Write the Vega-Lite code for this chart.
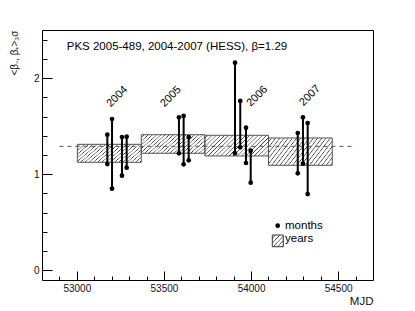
{
  "$schema": "https://vega.github.io/schema/vega-lite/v6.json",
  "width": 331,
  "height": 250,
  "autosize": "none",
  "padding": {"left": 42, "top": 30, "right": 42, "bottom": 31},
  "background": "white",
  "config": {
    "font": "Liberation Sans",
    "view": {"stroke": "#000", "strokeWidth": 1},
    "axis": {"domain": false, "grid": false, "tickColor": "#000", "tickWidth": 1, "labelColor": "#111", "titleColor": "#111", "labelFont": "Liberation Sans", "titleFont": "Liberation Sans", "titleFontWeight": "normal"}
  },
  "datasets": {
    "years": [
      {"x": 53003, "x2": 53370, "lo": 1.124, "hi": 1.311},
      {"x": 53370, "x2": 53735, "lo": 1.218, "hi": 1.411},
      {"x": 53735, "x2": 54100, "lo": 1.190, "hi": 1.405},
      {"x": 54100, "x2": 54466, "lo": 1.093, "hi": 1.377}
    ],
    "months": [
      {"mjd": 53175, "lo": 1.106, "hi": 1.411},
      {"mjd": 53202, "lo": 0.850, "hi": 1.574},
      {"mjd": 53259, "lo": 0.985, "hi": 1.387},
      {"mjd": 53286, "lo": 1.068, "hi": 1.391},
      {"mjd": 53586, "lo": 1.217, "hi": 1.592},
      {"mjd": 53613, "lo": 1.103, "hi": 1.606},
      {"mjd": 53642, "lo": 1.145, "hi": 1.387},
      {"mjd": 53908, "lo": 1.217, "hi": 2.160},
      {"mjd": 53938, "lo": 1.280, "hi": 1.762},
      {"mjd": 53971, "lo": 1.117, "hi": 1.484},
      {"mjd": 53998, "lo": 0.912, "hi": 1.245},
      {"mjd": 54268, "lo": 1.009, "hi": 1.429},
      {"mjd": 54298, "lo": 1.110, "hi": 1.592},
      {"mjd": 54325, "lo": 0.794, "hi": 1.533}
    ],
    "mean": [{"x": 52900, "x2": 54600, "y": 1.29}],
    "yearLabels": [
      {"x": 53232, "y": 1.806, "t": "2004"},
      {"x": 53540, "y": 1.806, "t": "2005"},
      {"x": 54036, "y": 1.810, "t": "2006"},
      {"x": 54338, "y": 1.817, "t": "2007"}
    ],
    "caption": [{"x": 52942, "y": 2.326, "t": "PKS 2005-489, 2004-2007 (HESS), β=1.29"}],
    "legendDot": [{"x": 54153, "y": 0.465}],
    "legendBox": [{"x": 54122, "x2": 54185, "lo": 0.246, "hi": 0.368}],
    "legendText": [
      {"x": 54195, "y": 0.465, "t": "months"},
      {"x": 54195, "y": 0.323, "t": "years"}
    ]
  },
  "resolve": {"axis": {"x": "independent", "y": "independent"}},
  "layer": [
    {
      "data": {"name": "years"},
      "mark": {
        "type": "rect",
        "stroke": "#555",
        "strokeWidth": 1,
        "fill": {
          "gradient": "linear", "x1": 0, "y1": 0, "x2": 1.25, "y2": 0.41,
          "stops": [
            {"offset": 0, "color": "rgba(255,255,255,0)"},
            {"offset": 0.02143, "color": "rgba(255,255,255,0)"}, {"offset": 0.03429, "color": "#333"}, {"offset": 0.04762, "color": "rgba(255,255,255,0)"},
            {"offset": 0.06905, "color": "rgba(255,255,255,0)"}, {"offset": 0.08190, "color": "#333"}, {"offset": 0.09524, "color": "rgba(255,255,255,0)"},
            {"offset": 0.11667, "color": "rgba(255,255,255,0)"}, {"offset": 0.12952, "color": "#333"}, {"offset": 0.14286, "color": "rgba(255,255,255,0)"},
            {"offset": 0.16429, "color": "rgba(255,255,255,0)"}, {"offset": 0.17714, "color": "#333"}, {"offset": 0.19048, "color": "rgba(255,255,255,0)"},
            {"offset": 0.21190, "color": "rgba(255,255,255,0)"}, {"offset": 0.22476, "color": "#333"}, {"offset": 0.23810, "color": "rgba(255,255,255,0)"},
            {"offset": 0.25952, "color": "rgba(255,255,255,0)"}, {"offset": 0.27238, "color": "#333"}, {"offset": 0.28571, "color": "rgba(255,255,255,0)"},
            {"offset": 0.30714, "color": "rgba(255,255,255,0)"}, {"offset": 0.32000, "color": "#333"}, {"offset": 0.33333, "color": "rgba(255,255,255,0)"},
            {"offset": 0.35476, "color": "rgba(255,255,255,0)"}, {"offset": 0.36762, "color": "#333"}, {"offset": 0.38095, "color": "rgba(255,255,255,0)"},
            {"offset": 0.40238, "color": "rgba(255,255,255,0)"}, {"offset": 0.41524, "color": "#333"}, {"offset": 0.42857, "color": "rgba(255,255,255,0)"},
            {"offset": 0.45000, "color": "rgba(255,255,255,0)"}, {"offset": 0.46286, "color": "#333"}, {"offset": 0.47619, "color": "rgba(255,255,255,0)"},
            {"offset": 0.49762, "color": "rgba(255,255,255,0)"}, {"offset": 0.51048, "color": "#333"}, {"offset": 0.52381, "color": "rgba(255,255,255,0)"},
            {"offset": 0.54524, "color": "rgba(255,255,255,0)"}, {"offset": 0.55810, "color": "#333"}, {"offset": 0.57143, "color": "rgba(255,255,255,0)"},
            {"offset": 0.59286, "color": "rgba(255,255,255,0)"}, {"offset": 0.60571, "color": "#333"}, {"offset": 0.61905, "color": "rgba(255,255,255,0)"},
            {"offset": 0.64048, "color": "rgba(255,255,255,0)"}, {"offset": 0.65333, "color": "#333"}, {"offset": 0.66667, "color": "rgba(255,255,255,0)"},
            {"offset": 0.68810, "color": "rgba(255,255,255,0)"}, {"offset": 0.70095, "color": "#333"}, {"offset": 0.71429, "color": "rgba(255,255,255,0)"},
            {"offset": 0.73571, "color": "rgba(255,255,255,0)"}, {"offset": 0.74857, "color": "#333"}, {"offset": 0.76190, "color": "rgba(255,255,255,0)"},
            {"offset": 0.78333, "color": "rgba(255,255,255,0)"}, {"offset": 0.79619, "color": "#333"}, {"offset": 0.80952, "color": "rgba(255,255,255,0)"},
            {"offset": 0.83095, "color": "rgba(255,255,255,0)"}, {"offset": 0.84381, "color": "#333"}, {"offset": 0.85714, "color": "rgba(255,255,255,0)"},
            {"offset": 0.87857, "color": "rgba(255,255,255,0)"}, {"offset": 0.89143, "color": "#333"}, {"offset": 0.90476, "color": "rgba(255,255,255,0)"},
            {"offset": 0.92619, "color": "rgba(255,255,255,0)"}, {"offset": 0.93905, "color": "#333"}, {"offset": 0.95238, "color": "rgba(255,255,255,0)"},
            {"offset": 0.97381, "color": "rgba(255,255,255,0)"}, {"offset": 0.98667, "color": "#333"}, {"offset": 1.0, "color": "rgba(255,255,255,0)"}
          ]
        }
      },
      "encoding": {
        "x": {
          "field": "x", "type": "quantitative",
          "scale": {"domain": [52800, 54700], "nice": false, "zero": false},
          "axis": {
            "orient": "bottom", "values": [53000, 53500, 54000, 54500], "format": "d",
            "ticks": false, "labelPadding": 3, "labelFontSize": 10,
            "title": "MJD", "titleFontSize": 11.5, "titleX": 331, "titleY": 21,
            "titleAlign": "right", "titleBaseline": "middle", "titleAngle": 0
          }
        },
        "x2": {"field": "x2"},
        "y": {
          "field": "lo", "type": "quantitative",
          "scale": {"domain": [-0.1, 2.5], "nice": false, "zero": false},
          "axis": {
            "orient": "left", "values": [0, 1, 2], "format": "d",
            "ticks": false, "labelPadding": 3, "labelFontSize": 10,
            "title": "<β₋, β₊>₃σ", "titleFontSize": 10, "titleX": -28, "titleY": 0,
            "titleAlign": "right", "titleBaseline": "middle", "titleAngle": -90
          }
        },
        "y2": {"field": "hi"}
      }
    },
    {
      "data": {"name": "mean"},
      "mark": {"type": "rule", "stroke": "#555", "strokeWidth": 1, "strokeDash": [4, 4]},
      "encoding": {
        "x": {
          "field": "x", "type": "quantitative",
          "scale": {"domain": [52800, 54700], "nice": false, "zero": false},
          "axis": {"orient": "bottom", "values": [53000, 53500, 54000, 54500], "labels": false, "ticks": true, "tickSize": 9, "offset": -9, "title": null}
        },
        "x2": {"field": "x2"},
        "y": {
          "field": "y", "type": "quantitative",
          "scale": {"domain": [-0.1, 2.5], "nice": false, "zero": false},
          "axis": {"orient": "left", "values": [0, 1, 2], "labels": false, "ticks": true, "tickSize": 10, "offset": -10, "title": null}
        }
      }
    },
    {
      "data": {"name": "months"},
      "mark": {"type": "rule", "stroke": "#000", "strokeWidth": 2},
      "encoding": {
        "x": {
          "field": "mjd", "type": "quantitative",
          "scale": {"domain": [52800, 54700], "nice": false, "zero": false},
          "axis": {"orient": "bottom", "values": [52900, 53100, 53200, 53300, 53400, 53600, 53700, 53800, 53900, 54100, 54200, 54300, 54400, 54600], "labels": false, "ticks": true, "tickSize": 4, "offset": -4, "title": null}
        },
        "y": {
          "field": "lo", "type": "quantitative",
          "scale": {"domain": [-0.1, 2.5], "nice": false, "zero": false},
          "axis": {"orient": "left", "values": [0.2, 0.4, 0.6, 0.8, 1.2, 1.4, 1.6, 1.8, 2.2, 2.4], "labels": false, "ticks": true, "tickSize": 5, "offset": -5, "title": null}
        },
        "y2": {"field": "hi"}
      }
    },
    {
      "data": {"name": "months"},
      "mark": {"type": "point", "filled": true, "color": "#000", "opacity": 1, "size": 22},
      "encoding": {
        "x": {"field": "mjd", "type": "quantitative", "scale": {"domain": [52800, 54700], "nice": false, "zero": false}, "axis": null},
        "y": {"field": "lo", "type": "quantitative", "scale": {"domain": [-0.1, 2.5], "nice": false, "zero": false}, "axis": null}
      }
    },
    {
      "data": {"name": "months"},
      "mark": {"type": "point", "filled": true, "color": "#000", "opacity": 1, "size": 22},
      "encoding": {
        "x": {"field": "mjd", "type": "quantitative", "scale": {"domain": [52800, 54700], "nice": false, "zero": false}, "axis": null},
        "y": {"field": "hi", "type": "quantitative", "scale": {"domain": [-0.1, 2.5], "nice": false, "zero": false}, "axis": null}
      }
    },
    {
      "data": {"name": "yearLabels"},
      "mark": {"type": "text", "angle": 315, "align": "center", "baseline": "middle", "fontSize": 11, "color": "#000"},
      "encoding": {
        "x": {"field": "x", "type": "quantitative", "scale": {"domain": [52800, 54700], "nice": false, "zero": false}, "axis": null},
        "y": {"field": "y", "type": "quantitative", "scale": {"domain": [-0.1, 2.5], "nice": false, "zero": false}, "axis": null},
        "text": {"field": "t"}
      }
    },
    {
      "data": {"name": "caption"},
      "mark": {"type": "text", "align": "left", "baseline": "middle", "fontSize": 11.5, "color": "#000"},
      "encoding": {
        "x": {"field": "x", "type": "quantitative", "scale": {"domain": [52800, 54700], "nice": false, "zero": false}, "axis": null},
        "y": {"field": "y", "type": "quantitative", "scale": {"domain": [-0.1, 2.5], "nice": false, "zero": false}, "axis": null},
        "text": {"field": "t"}
      }
    },
    {
      "data": {"name": "legendDot"},
      "mark": {"type": "point", "filled": true, "color": "#000", "opacity": 1, "size": 22},
      "encoding": {
        "x": {"field": "x", "type": "quantitative", "scale": {"domain": [52800, 54700], "nice": false, "zero": false}, "axis": null},
        "y": {"field": "y", "type": "quantitative", "scale": {"domain": [-0.1, 2.5], "nice": false, "zero": false}, "axis": null}
      }
    },
    {
      "data": {"name": "legendBox"},
      "mark": {
        "type": "rect", "stroke": "#333", "strokeWidth": 1,
        "fill": {
          "gradient": "linear", "x1": 0, "y1": 0, "x2": 1, "y2": 1,
          "stops": [
            {"offset": 0, "color": "rgba(255,255,255,0)"},
            {"offset": 0.09, "color": "rgba(255,255,255,0)"}, {"offset": 0.144, "color": "#333"}, {"offset": 0.2, "color": "rgba(255,255,255,0)"},
            {"offset": 0.29, "color": "rgba(255,255,255,0)"}, {"offset": 0.344, "color": "#333"}, {"offset": 0.4, "color": "rgba(255,255,255,0)"},
            {"offset": 0.49, "color": "rgba(255,255,255,0)"}, {"offset": 0.544, "color": "#333"}, {"offset": 0.6, "color": "rgba(255,255,255,0)"},
            {"offset": 0.69, "color": "rgba(255,255,255,0)"}, {"offset": 0.744, "color": "#333"}, {"offset": 0.8, "color": "rgba(255,255,255,0)"},
            {"offset": 0.89, "color": "rgba(255,255,255,0)"}, {"offset": 0.944, "color": "#333"}, {"offset": 1.0, "color": "rgba(255,255,255,0)"}
          ]
        }
      },
      "encoding": {
        "x": {"field": "x", "type": "quantitative", "scale": {"domain": [52800, 54700], "nice": false, "zero": false}, "axis": null},
        "x2": {"field": "x2"},
        "y": {"field": "lo", "type": "quantitative", "scale": {"domain": [-0.1, 2.5], "nice": false, "zero": false}, "axis": null},
        "y2": {"field": "hi"}
      }
    },
    {
      "data": {"name": "legendText"},
      "mark": {"type": "text", "align": "left", "baseline": "middle", "fontSize": 11.5, "color": "#000"},
      "encoding": {
        "x": {"field": "x", "type": "quantitative", "scale": {"domain": [52800, 54700], "nice": false, "zero": false}, "axis": null},
        "y": {"field": "y", "type": "quantitative", "scale": {"domain": [-0.1, 2.5], "nice": false, "zero": false}, "axis": null},
        "text": {"field": "t"}
      }
    }
  ]
}
